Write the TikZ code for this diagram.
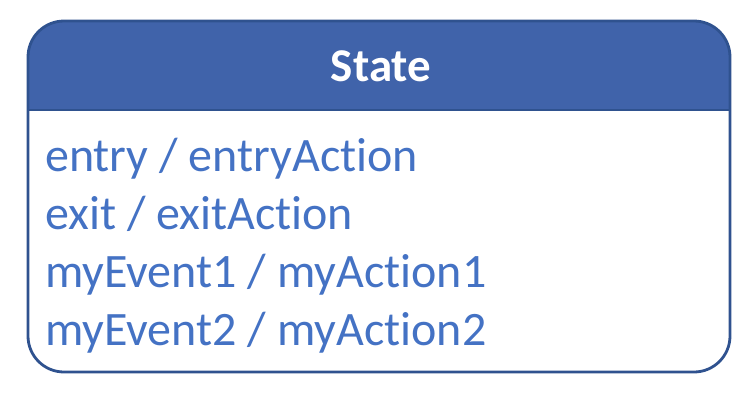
\documentclass[tikz,border=0pt]{standalone}
\usepackage{fontspec}
\setmainfont{Carlito}[Ligatures=NoCommon]
\definecolor{hdr}{RGB}{64,99,170}
\definecolor{edge}{RGB}{47,82,143}
\definecolor{txt}{RGB}{68,114,196}
\begin{document}
\begin{tikzpicture}[x=1pt,y=-1pt,
  body/.style={anchor=base west,inner sep=0pt,text=txt,font=\fontsize{48}{52}\selectfont},
  title/.style={anchor=base,inner sep=0pt,text=white,font=\bfseries\fontsize{47}{52}\selectfont}]
\useasboundingbox (0,0) rectangle (752,400);
\begin{scope}
\clip[rounded corners=36pt] (28,21) rectangle (730,372);
\fill[hdr] (20,10) rectangle (740,110);
\end{scope}
\draw[edge,line width=2.5pt] (28,110) -- (730,110);
\draw[edge,line width=2.8pt,rounded corners=36pt] (28,21) rectangle (730,372);
\node[title] (title) at (381,81) {State};
\node[body] (l1) at (45,171) {entry / entryAction};
\node[body] (l2) at (45,229) {exit / exitAction};
\node[body] (l3) at (45,287) {myEvent1 / myAction1};
\node[body] (l4) at (45,345) {myEvent2 / myAction2};
\end{tikzpicture}
\end{document}
